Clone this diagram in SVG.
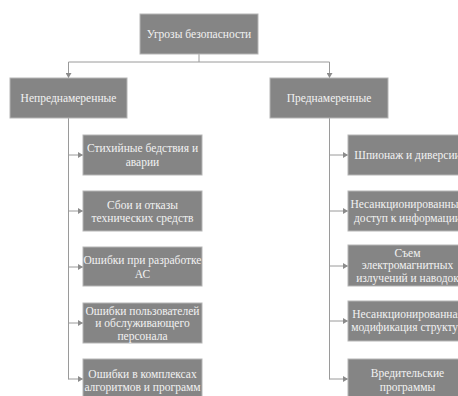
<svg xmlns="http://www.w3.org/2000/svg" width="458" height="396" viewBox="0 0 458 396">
<defs>
<marker id="arr" markerWidth="6" markerHeight="6" refX="5" refY="3" orient="auto" markerUnits="userSpaceOnUse">
<path d="M0,0 L5,3 L0,6 Z" fill="#8c8c8c"/>
</marker>
<style>
.box{fill:#858585;stroke:#b5b5b5;stroke-width:1}
.t{font-family:"Liberation Serif","Times New Roman",serif;font-size:11.5px;fill:#f2f2f2;text-anchor:middle}
.c{fill:none;stroke:#9a9a9a;stroke-width:1}
</style>
</defs>
<rect width="458" height="396" fill="#ffffff"/>
<g id="connectors">
<path class="c" d="M199,54 V62 M68.5,62 H329.5"/>
<path class="c" d="M68.5,62 V78" marker-end="url(#arr)"/>
<path class="c" d="M329.5,62 V78" marker-end="url(#arr)"/>
<path class="c" d="M68.5,118 V379.5 M329.5,118 V379.5"/>
<path class="c" d="M68.5,155 H83" marker-end="url(#arr)"/>
<path class="c" d="M68.5,211 H83" marker-end="url(#arr)"/>
<path class="c" d="M68.5,267 H83" marker-end="url(#arr)"/>
<path class="c" d="M68.5,323 H83" marker-end="url(#arr)"/>
<path class="c" d="M68.5,379 H83" marker-end="url(#arr)"/>
<path class="c" d="M329.5,155 H348" marker-end="url(#arr)"/>
<path class="c" d="M329.5,211 H348" marker-end="url(#arr)"/>
<path class="c" d="M329.5,266 H348" marker-end="url(#arr)"/>
<path class="c" d="M329.5,321 H348" marker-end="url(#arr)"/>
<path class="c" d="M329.5,379 H348" marker-end="url(#arr)"/>
</g>
<g id="root"><rect class="box" x="140" y="14" width="118" height="40"/><text class="t" x="199" y="38">Угрозы безопасности</text></g>
<g id="unintentional"><rect class="box" x="10" y="78" width="117" height="40"/><text class="t" x="68.5" y="102">Непреднамеренные</text></g>
<g id="intentional"><rect class="box" x="270" y="78" width="118" height="40"/><text class="t" x="329" y="102">Преднамеренные</text></g>
<g id="u1"><rect class="box" x="83" y="135" width="119" height="40"/><text class="t" x="142.5" y="152">Стихийные бедствия и</text><text class="t" x="142.5" y="166">аварии</text></g>
<g id="u2"><rect class="box" x="83" y="191" width="119" height="40"/><text class="t" x="142.5" y="209">Сбои и отказы</text><text class="t" x="142.5" y="222">технических средств</text></g>
<g id="u3"><rect class="box" x="83" y="247" width="119" height="39"/><text class="t" x="142.5" y="264">Ошибки при разработке</text><text class="t" x="142.5" y="278">АС</text></g>
<g id="u4"><rect class="box" x="83" y="303" width="119" height="40"/><text class="t" x="142.5" y="315">Ошибки пользователей</text><text class="t" x="142.5" y="327">и обслуживающего</text><text class="t" x="142.5" y="340">персонала</text></g>
<g id="u5"><rect class="box" x="83" y="359" width="119" height="40"/><text class="t" x="142.5" y="378">Ошибки в комплексах</text><text class="t" x="142.5" y="391">алгоритмов и программ</text></g>
<g id="i1"><rect class="box" x="348" y="135" width="119" height="40"/><text class="t" x="407.5" y="159">Шпионаж и диверсии</text></g>
<g id="i2"><rect class="box" x="348" y="191" width="119" height="40"/><text class="t" x="407.5" y="208">Несанкционированный</text><text class="t" x="407.5" y="222">доступ к информации</text></g>
<g id="i3"><rect class="box" x="348" y="245" width="119" height="41"/><text class="t" x="407.5" y="257">Съем</text><text class="t" x="407.5" y="269">электромагнитных</text><text class="t" x="407.5" y="282">излучений и наводок</text></g>
<g id="i4"><rect class="box" x="348" y="301" width="119" height="40"/><text class="t" x="407.5" y="318">Несанкционированная</text><text class="t" x="407.5" y="331">модификация структур</text></g>
<g id="i5"><rect class="box" x="348" y="359" width="119" height="40"/><text class="t" x="407.5" y="377">Вредительские</text><text class="t" x="407.5" y="391">программы</text></g>
</svg>
